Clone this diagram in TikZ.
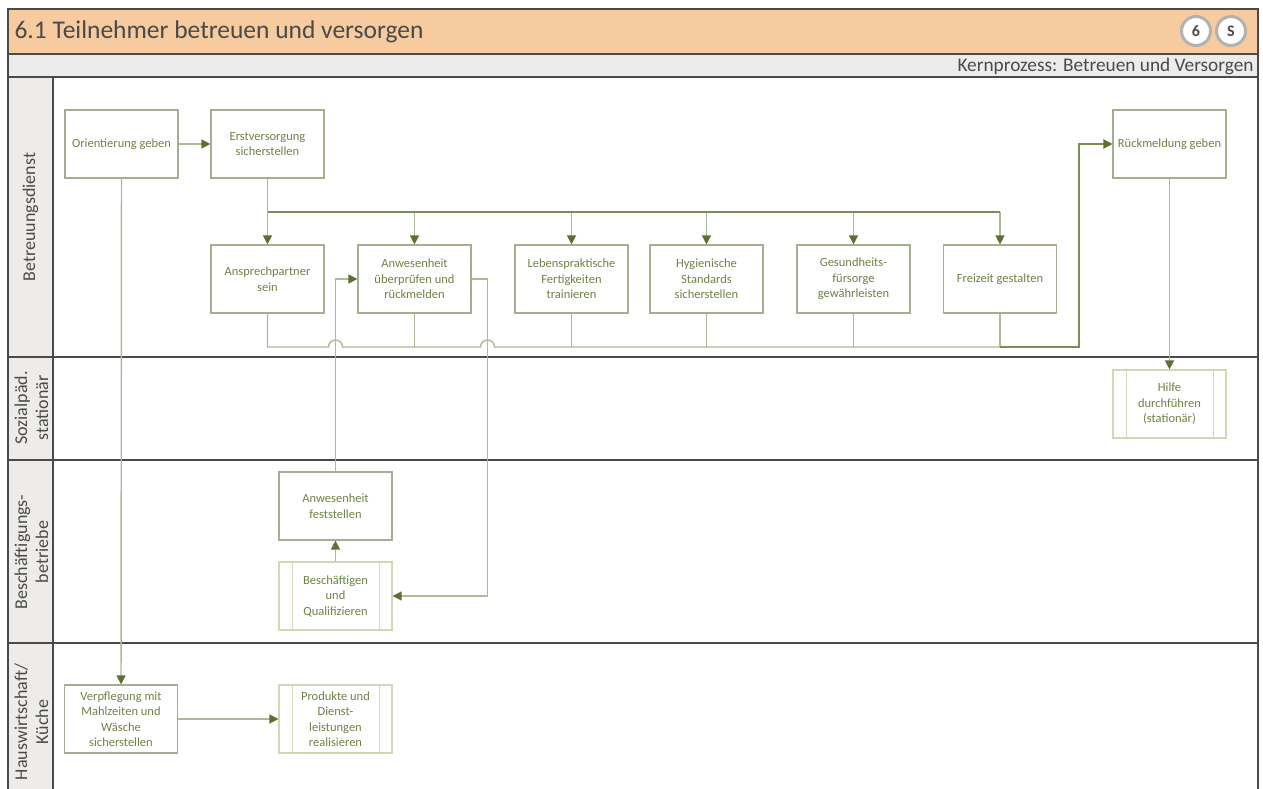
\documentclass[tikz,border=0pt]{standalone}
\usepackage{fontspec}
\setmainfont{Carlito}
\usetikzlibrary{arrows.meta}

\definecolor{titlefill}{HTML}{F6CBA0}
\definecolor{bandfill}{HTML}{ECECEC}
\definecolor{lanefill}{HTML}{EEECE8}
\definecolor{frameline}{HTML}{4A4A4A}
\definecolor{boxline}{HTML}{A3B08F}
\definecolor{boxtext}{HTML}{6E8246}
\definecolor{flowline}{HTML}{ADBA98}
\definecolor{tipcol}{HTML}{5B7031}
\definecolor{busline}{HTML}{7A8C5A}
\definecolor{subline}{HTML}{D0D9B4}

\tikzset{
  task/.style={draw=boxline, line width=1.2pt, fill=white, minimum width=113pt,
    minimum height=68pt, align=center, text=boxtext, inner sep=2pt,
    font=\fontsize{12.5}{15.5}\selectfont},
  subtask/.style={task, draw=subline,
    path picture={\draw[subline, line width=1pt]
      ([xshift=13pt]path picture bounding box.north west) -- ([xshift=13pt]path picture bounding box.south west)
      ([xshift=-13pt]path picture bounding box.north east) -- ([xshift=-13pt]path picture bounding box.south east);}},
  link/.style={draw=flowline, line width=1.4pt},
  flow/.style={link, -{Triangle[length=9pt,width=9pt,color=tipcol]}},
  bus/.style={draw=busline, line width=2pt},
  lane/.style={draw=frameline, line width=1.8pt},
  lanelabel/.style={rotate=90, align=center, text=frameline, font=\fontsize{18}{21}\selectfont},
  badge/.style={circle, draw=gray!60, line width=3pt, fill=white, minimum size=29pt,
    inner sep=0pt, text=frameline, font=\bfseries\fontsize{16}{16}\selectfont}
}

\begin{document}
\begin{tikzpicture}[x=1pt,y=1pt]
\useasboundingbox (0,0) rectangle (1263,-789);
% header and lanes
\fill[titlefill] (8,-9) rectangle (1258,-54);
\fill[bandfill] (8,-54) rectangle (1258,-77);
\fill[lanefill] (8,-77) rectangle (53,-800);
\draw[lane] (8,-800) -- (8,-9) -- (1258,-9) -- (1258,-800);
\foreach \y in {54,77,357,460,643} \draw[lane] (8,-\y) -- (1258,-\y);
\draw[lane] (53,-77) -- (53,-800);

\node[anchor=west, text=frameline, font=\fontsize{25.5}{25.5}\selectfont] (title) at (11,-32) {6.1 Teilnehmer betreuen und versorgen};
\node[badge] (nr) at (1196,-31) {6};
\node[badge] (kind) at (1231,-31) {S};
\node[anchor=east, text=frameline, font=\fontsize{19.3}{19.3}\selectfont] (kern) at (1257,-66) {Kernprozess: Betreuen und Versorgen};

\node[lanelabel] (l1) at (30.5,-217) {Betreuungsdienst};
\node[lanelabel] (l2) at (31.5,-408) {Sozialpäd.\\stationär};
\node[lanelabel] (l3) at (31.5,-552) {Beschäftigungs-\\betriebe};
\node[lanelabel] (l4) at (31.5,-722) {Hauswirtschaft/\\Küche};

% tasks
\node[task] (orient) at (121.5,-144) {Orientierung geben};
\node[task] (erst) at (267.5,-144) {Erstversorgung\\sicherstellen};
\node[task] (rueck) at (1169.5,-144) {Rückmeldung geben};
\node[task] (ansp) at (267.5,-279) {Ansprechpartner\\sein};
\node[task] (anwu) at (414.5,-279) {Anwesenheit\\überprüfen und\\rückmelden};
\node[task] (leben) at (571.5,-279) {Lebenspraktische\\Fertigkeiten\\trainieren};
\node[task] (hyg) at (706.5,-279) {Hygienische\\Standards\\sicherstellen};
\node[task] (gesund) at (853.5,-279) {Gesundheits-\\fürsorge\\gewährleisten};
\node[task] (frei) at (1000,-279) {Freizeit gestalten};
\node[subtask] (hilfe) at (1169.5,-404) {Hilfe\\durchführen\\(stationär)};
\node[task] (anwf) at (335.5,-506) {Anwesenheit\\feststellen};
\node[subtask] (besch) at (335.5,-596) {Beschäftigen\\und\\Qualifizieren};
\node[task] (verpf) at (121,-719) {Verpflegung mit\\Mahlzeiten und\\Wäsche\\sicherstellen};
\node[subtask] (prod) at (335.5,-719) {Produkte und\\Dienst-\\leistungen\\realisieren};

% connectors
\draw[flow] (orient) -- (erst);
\coordinate (busL) at (267.5,-212);
\coordinate (busR) at (1000,-212);
\draw[link] (erst.south) -- (busL);
\foreach \t in {ansp,anwu,leben,hyg,gesund,frei}
  \draw[flow] (\t.north |- busL) -- (\t.north);
\draw[bus] (busL) -- (busR);

\coordinate (backL) at (267.5,-347);
\coordinate (backR) at (1079,-347);
\coordinate (hopA) at (328.5,-347);
\coordinate (hopB) at (480.5,-347);
\coordinate (turn) at (487.5,-279);
\draw[flow] (anwf.north) |- (anwu.west);
\draw[flow] (anwu.east) -- (turn) |- (besch.east);
\draw[link] (ansp.south) -- (backL) -- (hopA) arc[start angle=180, end angle=0, radius=7]
  -- (hopB) arc[start angle=180, end angle=0, radius=7] -- (frei.south |- backL);
\foreach \t in {anwu,leben,hyg,gesund,frei}
  \draw[link] (\t.south) -- (\t.south |- backL);
\draw[bus, -{Triangle[length=9pt,width=9pt,color=tipcol]}] (frei.south |- backL) -- (backR) |- (rueck.west);

\draw[flow] (rueck) -- (hilfe);
\draw[flow] (besch) -- (anwf);
\draw[flow] (orient) -- (verpf);
\draw[flow] (verpf) -- (prod);
\end{tikzpicture}
\end{document}
